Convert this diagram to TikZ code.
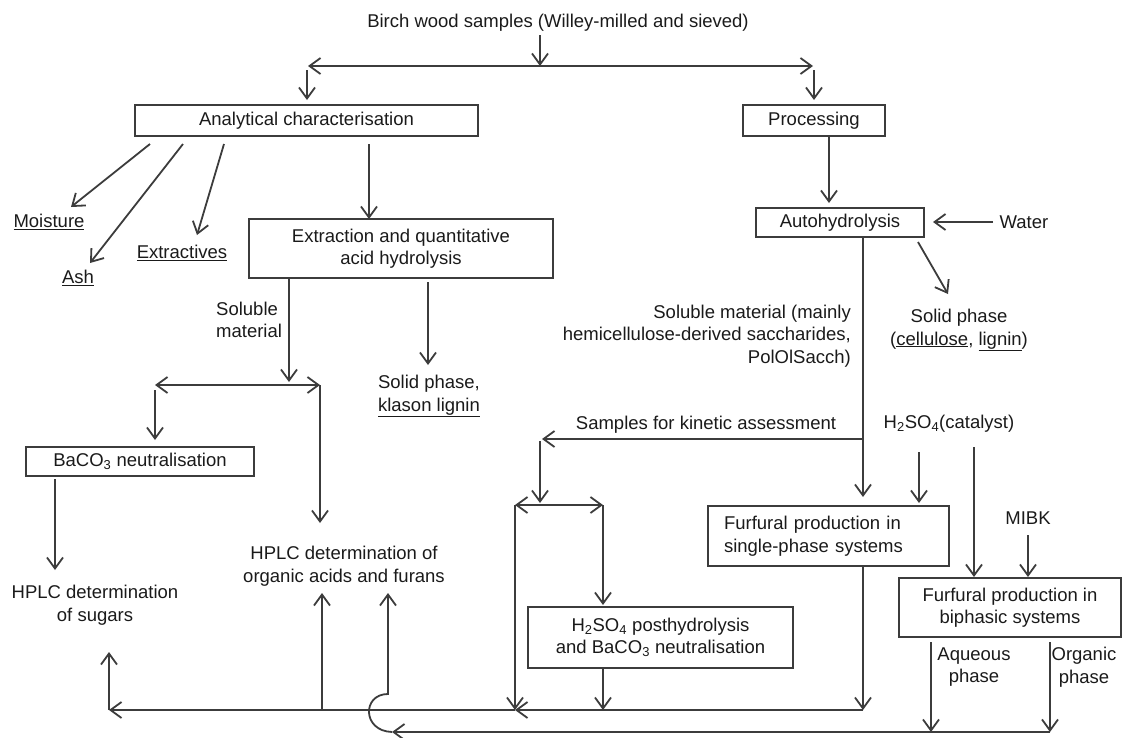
\documentclass[tikz,border=0pt]{standalone}
\usepackage{fontspec}
\setmainfont{Liberation Sans}
\usetikzlibrary{arrows.meta}
\definecolor{lc}{HTML}{3C3C3C}
\definecolor{tc}{HTML}{1A1A1A}
\begin{document}
\begin{tikzpicture}
  [x=1pt,y=-1pt,
   every node/.style={font=\fontsize{18.5}{22.5}\selectfont, text=tc, inner sep=0pt},
   box/.style={draw=lc, line width=1.8pt, align=center},
   lbl/.style={align=center},
   ln/.style={draw=lc, line width=1.8pt},
   arr/.style={ln, -{Straight Barb[length=11pt,width=16pt]}},
   darr/.style={ln, {Straight Barb[length=11pt,width=16pt]}-{Straight Barb[length=11pt,width=16pt]}}]
  \useasboundingbox (0,0) rectangle (1128,737);
  % boxes
  \node (anal)[box, minimum width=343, minimum height=31] at (306.5,120.5) {Analytical characterisation};
  \node (proc)[box, minimum width=142, minimum height=31] at (814,120.5) {Processing};
  \node (extr)[box, minimum width=304, minimum height=59] at (401,248.5) {Extraction and quantitative\\acid hydrolysis};
  \node (auto)[box, minimum width=168, minimum height=29] at (840,222.5) {Autohydrolysis};
  \node (baco)[box, minimum width=228, minimum height=29] at (140,461.5) {BaCO\textsubscript{3} neutralisation};
  \node (post)[box, minimum width=265, minimum height=61] at (660.5,637.5) {H\textsubscript{2}SO\textsubscript{4} posthydrolysis\\and BaCO\textsubscript{3} neutralisation};
  \node (single)[box, align=left, text width=209, inner xsep=16, minimum height=60] at (828.5,536) {Furfural production in\\single-phase systems};
  \node (biph)[box, minimum width=222, minimum height=59] at (1010,607.5) {Furfural production in\\biphasic systems};
  % labels
  \node (title)[lbl] at (558,23) {Birch wood samples (Willey-milled and sieved)};
  \node (moist)[lbl] at (49,222) {\underline{Moisture}};
  \node (ash)[lbl] at (78,278) {\underline{Ash}};
  \node (extv)[lbl] at (182,253) {\underline{Extractives}};
  \node (solm)[lbl, anchor=west, align=left] at (216,320) {Soluble\\material};
  \node (klas)[lbl] at (429,396) {Solid phase,\\\underline{klason lignin}};
  \node (hsug)[lbl] at (95,605) {HPLC determination\\of sugars};
  \node (hacid)[lbl] at (344,566) {HPLC determination of\\organic acids and furans};
  \node (solh)[lbl, anchor=east, align=right] at (851,336) {Soluble material (mainly\\hemicellulose-derived saccharides,\\PolOlSacch)};
  \node (sols)[lbl] at (959,330) {Solid phase\\(\underline{cellulose}, \underline{lignin})};
  \node (water)[lbl] at (1024,222) {Water};
  \node (kin)[lbl] at (706,425) {Samples for kinetic assessment};
  \node (cat)[lbl] at (949,424) {H\textsubscript{2}SO\textsubscript{4}(catalyst)};
  \node (mibk)[lbl] at (1028,518) {MIBK};
  \node (aq)[lbl] at (974,667) {Aqueous\\phase};
  \node (org)[lbl] at (1084,667) {Organic\\phase};
  % junction points
  \foreach \nm/\x/\y in {t0/540/35, tj/540/66, tl/308/66, tr/813/66,
      a0/307/70, a1/307/100, p0/814/70, p1/814/100,
      m0/150/144, m1/71/207, s0/183/144, s1/90/263, e0/224/144, e1/197/235,
      x0/369/144, x1/369/219, l0/289/278, l1/289/382, ll/155/385, lr/320/385,
      b0/155/390, b1/155/440, lr2/320/523, k0/428/282, k1/428/365,
      c0/55/479, c1/55/570, q0/829/136, q1/829/203, w0/993/222, w1/933/222,
      d0/918/242, d1/948/294, v0/863/237, v1/863/497, vk/863/439, kj/542/439,
      g0/540/441, g1/540/503, gl/515/505, gr/603/505, h1/603/605,
      f0/919/452, f1/919/503, n0/974/447, n1/974/577, i0/1028/535, i1/1028/577,
      sb/863/566, sj/863/710, pb/603/668, pj/603/710, bl/515/710, bz/109/710, bu/109/652,
      u0/322/710, u1/322/593, y0/931/642, y1/931/732, o0/1050/642, o1/1050/732,
      hs/392/732, hc/388/694, hu/388/593}
    \coordinate (\nm) at (\x,\y);
  % connectors
  \foreach \from/\to in {t0/tj, a0/a1, p0/p1, m0/m1, s0/s1, e0/e1, x0/x1, l0/l1,
      b0/b1, lr/lr2, k0/k1, c0/c1, q0/q1, w0/w1, d0/d1, v0/v1, vk/kj, g0/g1,
      gr/h1, gl/bl, f0/f1, n0/n1, i0/i1, sb/sj, pb/pj, sj/bl, bl/bz, bz/bu,
      u0/u1, y0/y1, o0/o1, o1/hs}
    \draw[arr] (\from) -- (\to);
  \foreach \from/\to in {tl/tr, ll/lr, gl/gr}
    \draw[darr] (\from) -- (\to);
  % hop over the lower line
  \draw[arr] (hs) .. controls (362,731) and (362,694) .. (hc) -- (hu);
\end{tikzpicture}
\end{document}
